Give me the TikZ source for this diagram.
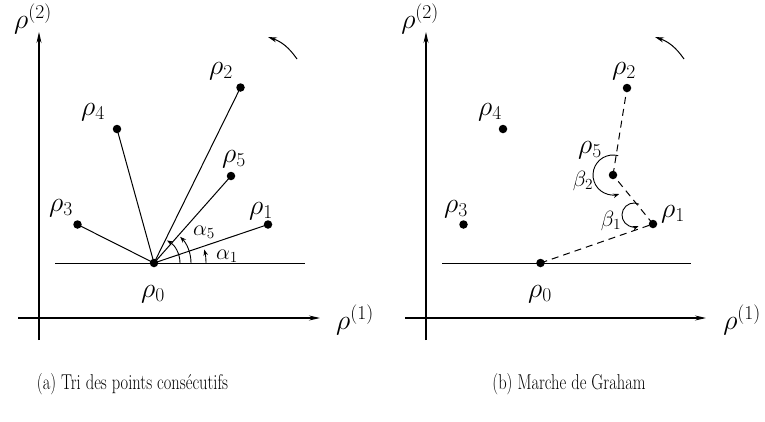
\RequirePackage{fix-cm}
\documentclass[tikz,border=0pt]{standalone}
\usetikzlibrary{arrows.meta}
\begin{document}
\begin{tikzpicture}[x=1pt,y=1pt,
  lbl/.style={font=\fontsize{28}{30}\selectfont, inner sep=0pt},
  ang/.style={font=\fontsize{22}{24}\selectfont, inner sep=0pt},
  captext/.style={font=\fontsize{16.5}{20}\selectfont, inner sep=0pt},
  axis/.style={line width=1.1pt, -{Stealth[length=11pt,width=5pt]}},
  seg/.style={line width=1pt},
  dseg/.style={line width=1pt, dash pattern=on 7pt off 5pt},
  pt/.style={circle, fill=black, inner sep=0pt, minimum size=8.5pt},
  angarr/.style={line width=0.9pt, -{Stealth[length=6pt,width=4.5pt]}},
  rot/.style={line width=1pt, -{Stealth[length=9pt,width=5pt]}}]
\useasboundingbox (0,0) rectangle (765,-421);

% ---------- left panel ----------
\coordinate (aO) at (18,-318);
\coordinate (aX) at (320,-318);
\coordinate (aB) at (39,-340);
\coordinate (aY) at (39,-32);
\draw[axis] (aO) -- (aX);
\draw[axis] (aB) -- (aY);
\node[lbl] (aXl) at (355,-320) {$\rho^{(1)}$};
\node[lbl] (aYl) at (33,-19) {$\rho^{(2)}$};
\coordinate (aL1) at (55,-263);
\coordinate (aL2) at (305,-263);
\draw[seg] (aL1) -- (aL2);

\node[pt] (a0) at (154,-263) {};
\node[pt] (a1) at (268,-224.5) {};
\node[pt] (a2) at (240.5,-87.5) {};
\node[pt] (a3) at (77.5,-224.5) {};
\node[pt] (a4) at (117,-129) {};
\node[pt] (a5) at (231,-176) {};
\foreach \i in {1,...,5} \draw[seg] (a0.center) -- (a\i.center);

\node[lbl] (a0l) at (153,-294) {$\rho_0$};
\node[lbl] (a1l) at (261,-211) {$\rho_1$};
\node[lbl] (a2l) at (221,-71) {$\rho_2$};
\node[lbl] (a3l) at (61,-208) {$\rho_3$};
\node[lbl] (a4l) at (93,-112) {$\rho_4$};
\node[lbl] (a5l) at (234,-159) {$\rho_5$};

\draw[angarr] ([shift={(0:52)}]a0.center) arc[start angle=0,end angle=15,radius=52];
\draw[angarr] ([shift={(0:37)}]a0.center) arc[start angle=0,end angle=45,radius=37];
\draw[angarr] ([shift={(0:26)}]a0.center) arc[start angle=0,end angle=60,radius=26];
\node[ang] (al1) at (227,-256) {$\alpha_1$};
\node[ang] (al5) at (204,-232) {$\alpha_5$};

\coordinate (aR1) at (297,-59);
\coordinate (aR2) at (268,-37);
\draw[rot] (aR1) to[bend right=18] (aR2);

\node[captext] (capa) at (132.5,-384) {\scalebox{1}[1.3]{(a) Tri des points consécutifs}};

% ---------- right panel ----------
\coordinate (bO) at (405,-318);
\coordinate (bX) at (706,-318);
\coordinate (bB) at (426,-340);
\coordinate (bY) at (426,-32);
\draw[axis] (bO) -- (bX);
\draw[axis] (bB) -- (bY);
\node[lbl] (bXl) at (742,-320) {$\rho^{(1)}$};
\node[lbl] (bYl) at (420,-19) {$\rho^{(2)}$};
\coordinate (bL1) at (442,-263);
\coordinate (bL2) at (691,-263);
\draw[seg] (bL1) -- (bL2);

\node[pt] (b0) at (540.5,-263) {};
\node[pt] (b1) at (653,-224) {};
\node[pt] (b2) at (627,-88) {};
\node[pt] (b3) at (463.5,-224.5) {};
\node[pt] (b4) at (503,-129) {};
\node[pt] (b5) at (613,-175) {};
\draw[dseg] (b0.center) -- (b1.center);
\draw[dseg] (b1.center) -- (b5.center);
\draw[dseg] (b5.center) -- (b2.center);

\node[lbl] (b0l) at (540,-294) {$\rho_0$};
\node[lbl] (b1l) at (673,-214) {$\rho_1$};
\node[lbl] (b2l) at (624,-71) {$\rho_2$};
\node[lbl] (b3l) at (456,-209) {$\rho_3$};
\node[lbl] (b4l) at (490,-112) {$\rho_4$};
\node[lbl] (b5l) at (590,-150) {$\rho_5$};

\draw[angarr] ([shift={(75:20)}]b5.center) arc[start angle=75,end angle=288,radius=20];
\coordinate (bc1) at (634,-215);
\draw[angarr] ([shift={(65:12)}]bc1) arc[start angle=65,end angle=292,radius=12];
\node[ang] (bt2) at (583,-181) {$\beta_2$};
\node[ang] (bt1) at (611,-221) {$\beta_1$};

\coordinate (bR1) at (684,-59);
\coordinate (bR2) at (655,-37);
\draw[rot] (bR1) to[bend right=18] (bR2);

\node[captext] (capb) at (569,-384) {\scalebox{1}[1.3]{(b) Marche de Graham}};
\end{tikzpicture}
\end{document}
